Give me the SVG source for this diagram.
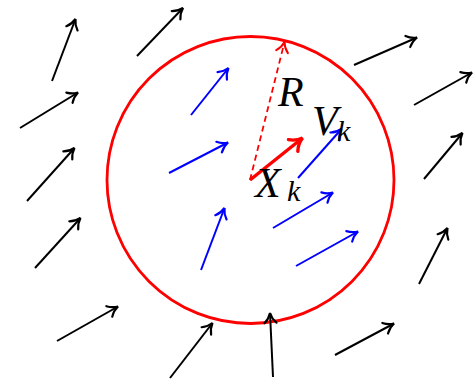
<svg xmlns="http://www.w3.org/2000/svg" width="475" height="382" viewBox="0 0 475 382">
<style>
.blk{stroke:#000;stroke-width:2;fill:none;marker-end:url(#hb)}
.blu{stroke:#0000ff;stroke-width:2;fill:none;marker-end:url(#hu)}
.lbl{font-family:"Liberation Serif","Times New Roman",serif;font-style:italic;fill:#000}
.big{font-size:42px}
.sub{font-size:30px}
</style>
<defs>
<marker id="hb" markerUnits="userSpaceOnUse" orient="auto" refX="0" refY="0" markerWidth="20" markerHeight="20" overflow="visible">
<path d="M-10,-6 C-7,-2.8 -2.8,-0.7 0,0 C-2.8,0.7 -7,2.8 -10,6" fill="none" stroke="#000" stroke-width="2.2" stroke-linecap="round"/>
</marker>
<marker id="hu" markerUnits="userSpaceOnUse" orient="auto" refX="0" refY="0" markerWidth="20" markerHeight="20" overflow="visible">
<path d="M-10,-6 C-7,-2.8 -2.8,-0.7 0,0 C-2.8,0.7 -7,2.8 -10,6" fill="none" stroke="#0000ff" stroke-width="2.2" stroke-linecap="round"/>
</marker>
<marker id="hr" markerUnits="userSpaceOnUse" orient="auto" refX="0" refY="0" markerWidth="24" markerHeight="24" overflow="visible">
<path d="M-12,-7.5 C-8.5,-3.4 -3.2,-0.8 0,0 C-3.2,0.8 -8.5,3.4 -12,7.5" fill="none" stroke="#ff0000" stroke-width="3.4" stroke-linecap="round"/>
</marker>
<marker id="hrd" markerUnits="userSpaceOnUse" orient="auto" refX="0" refY="0" markerWidth="20" markerHeight="20" overflow="visible">
<path d="M-10,-6 C-7,-2.8 -2.8,-0.7 0,0 C-2.8,0.7 -7,2.8 -10,6" fill="none" stroke="#ff0000" stroke-width="2" stroke-linecap="round"/>
</marker>
</defs>
<g id="neighbourhood">
<circle cx="250.5" cy="180" r="143.5" fill="none" stroke="#ff0000" stroke-width="2.8"/>
</g>
<g id="outer-arrows">
<line class="blk" x1="52" y1="81" x2="75.5" y2="19"/>
<line class="blk" x1="137" y1="56" x2="183" y2="8"/>
<line class="blk" x1="20" y1="128" x2="78" y2="92.5"/>
<line class="blk" x1="27" y1="201" x2="74.5" y2="148"/>
<line class="blk" x1="35" y1="268" x2="80.5" y2="218"/>
<line class="blk" x1="57" y1="341" x2="118" y2="306.5"/>
<line class="blk" x1="170" y1="378" x2="212.5" y2="323"/>
<line class="blk" x1="354" y1="65" x2="417" y2="37.5"/>
<line class="blk" x1="414" y1="105" x2="472" y2="72.5"/>
<line class="blk" x1="424" y1="179" x2="462.5" y2="133"/>
<line class="blk" x1="419" y1="284" x2="447.5" y2="228"/>
<line class="blk" x1="335" y1="355" x2="394" y2="323.5"/>
<line class="blk" x1="273" y1="377" x2="270" y2="313"/>
</g>
<g id="inner-arrows">
<line class="blu" x1="191" y1="115" x2="228.5" y2="68"/>
<line class="blu" x1="169" y1="173" x2="228" y2="142.5"/>
<line class="blu" x1="201" y1="270" x2="224.5" y2="208"/>
<line class="blu" x1="298" y1="178" x2="341.5" y2="129"/>
<line class="blu" x1="273" y1="228" x2="333" y2="192.5"/>
<line class="blu" x1="296" y1="266" x2="358" y2="231.5"/>
</g>
<g id="centre-vectors">
<line x1="250" y1="180" x2="284.5" y2="42" stroke="#ff0000" stroke-width="1.8" stroke-dasharray="6,4" fill="none" marker-end="url(#hrd)"/>
<line x1="250" y1="180" x2="302.5" y2="138" stroke="#ff0000" stroke-width="3.4" fill="none" marker-end="url(#hr)"/>
</g>
<g id="labels">
<text class="lbl big" x="278" y="106">R</text>
<text class="lbl big" x="312" y="135">V</text>
<text class="lbl sub" x="337" y="141">k</text>
<text class="lbl big" x="255" y="197">X</text>
<text class="lbl sub" x="287" y="201">k</text>
</g>
</svg>
